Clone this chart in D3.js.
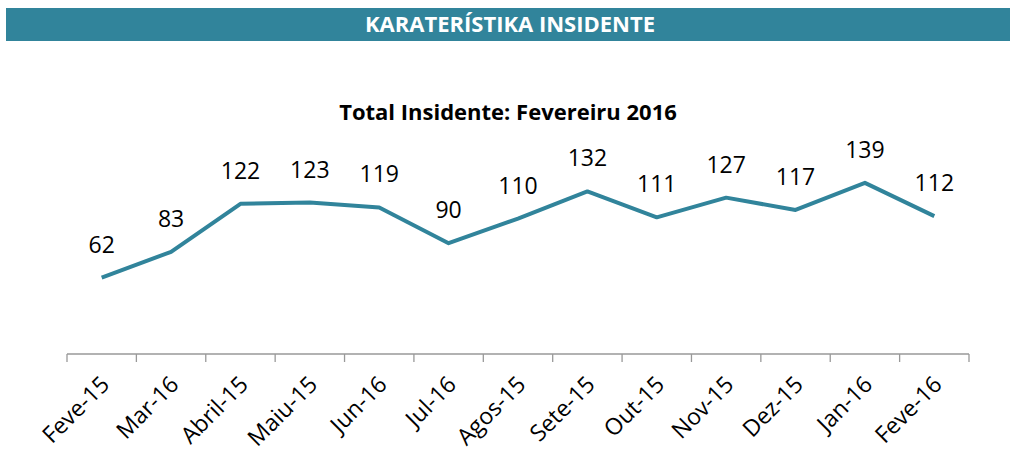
<!DOCTYPE html>
<html>
<head>
<meta charset="utf-8">
<script src="https://cdn.jsdelivr.net/npm/d3@7"></script>
<style>
  body { margin: 0; background: #fff; }
  svg { display: block; font-family: "Open Sans", "Noto Sans", sans-serif; }
</style>
</head>
<body>
<div id="chart"></div>
<script>
const months = ["Feve-15", "Mar-16", "Abril-15", "Maiu-15", "Jun-16", "Jul-16", "Agos-15",
                "Sete-15", "Out-15", "Nov-15", "Dez-15", "Jan-16", "Feve-16"];
const incidents = [62, 83, 122, 123, 119, 90, 110, 132, 111, 127, 117, 139, 112];

const width = 1011, height = 454;
const teal = "#31849b";

const svg = d3.select("#chart").append("svg")
    .attr("width", width)
    .attr("height", height);

// Header band
svg.append("rect")
    .attr("x", 6).attr("y", 8)
    .attr("width", 1004).attr("height", 33)
    .attr("fill", teal);

svg.append("text")
    .attr("x", 510).attr("y", 32)
    .attr("text-anchor", "middle")
    .attr("fill", "#fff")
    .style("font-size", "22px")
    .style("font-weight", "bold")
    .text("KARATERÍSTIKA INSIDENTE");

// Chart title
svg.append("text")
    .attr("x", 508).attr("y", 120)
    .attr("text-anchor", "middle")
    .attr("fill", "#000")
    .style("font-size", "22px")
    .style("font-weight", "bold")
    .text("Total Insidente: Fevereiru 2016");

const x = d3.scaleBand()
    .domain(months)
    .range([67, 969]);

const y = d3.scaleLinear()
    .domain([0, 160])
    .range([354, 157]);

// x axis: ticks on band boundaries
const axisY = y(0);
const g = svg.append("g");
g.append("line")
    .attr("x1", x.range()[0]).attr("x2", x.range()[1])
    .attr("y1", axisY).attr("y2", axisY)
    .attr("stroke", "#999").attr("stroke-width", 1.3);

const boundaries = months.map(m => x(m)).concat([x.range()[1]]);
g.selectAll(".tick")
    .data(boundaries)
    .join("line")
    .attr("class", "tick")
    .attr("x1", d => d).attr("x2", d => d)
    .attr("y1", axisY).attr("y2", axisY + 8)
    .attr("stroke", "#999").attr("stroke-width", 1.3);

g.selectAll(".xlabel")
    .data(months)
    .join("text")
    .attr("class", "xlabel")
    .attr("text-anchor", "end")
    .attr("transform", d => `translate(${x(d) + x.bandwidth() / 2 + 9},${axisY + 32}) rotate(-45)`)
    .attr("fill", "#000")
    .style("font-size", "23px")
    .text(d => d);

// Line
const line = d3.line()
    .x((d, i) => x(months[i]) + x.bandwidth() / 2)
    .y(d => y(d));

svg.append("path")
    .datum(incidents)
    .attr("d", line)
    .attr("fill", "none")
    .attr("stroke", teal)
    .attr("stroke-width", 4)
    .attr("stroke-linejoin", "round");

// Value labels
svg.selectAll(".vlabel")
    .data(incidents)
    .join("text")
    .attr("class", "vlabel")
    .attr("x", (d, i) => x(months[i]) + x.bandwidth() / 2)
    .attr("y", d => y(d) - 25)
    .attr("text-anchor", "middle")
    .attr("fill", "#000")
    .style("font-size", "23px")
    .text(d => d);
</script>
</body>
</html>
